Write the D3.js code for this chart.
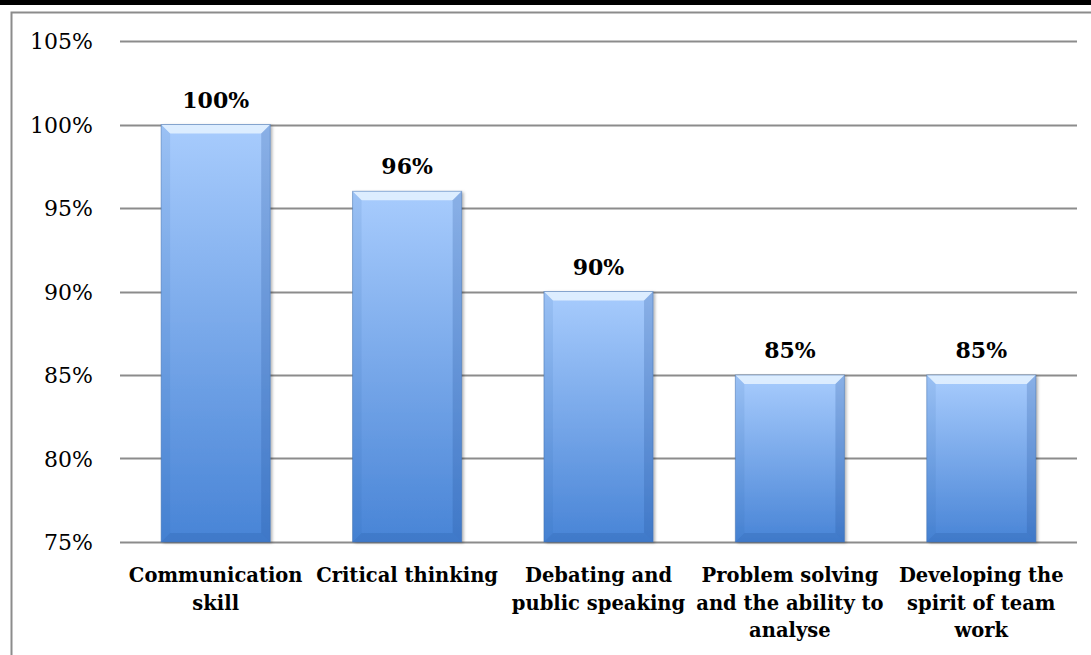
<!DOCTYPE html>
<html>
<head>
<meta charset="utf-8">
<script src="https://cdn.jsdelivr.net/npm/d3@7"></script>
<style>
  html, body { margin: 0; padding: 0; background: #fff; }
  svg { display: block; }
</style>
</head>
<body>
<div id="chart"></div>
<script>
// Skills chart — bevelled gradient bars, percentage axis from 75% to 105%
const CATEGORIES = [
  ['Communication', 'skill'],
  ['Critical thinking'],
  ['Debating and', 'public speaking'],
  ['Problem solving', 'and the ability to', 'analyse'],
  ['Developing the', 'spirit of team', 'work']
];
const VALUES = [1.00, 0.96, 0.90, 0.85, 0.85];
const Y_TICKS = [0.75, 0.80, 0.85, 0.90, 0.95, 1.00, 1.05];

const width = 1091, height = 655;
const plot = { left: 120, right: 1077, top: 41, bottom: 542 };
const SERIF = '"DejaVu Serif", "Liberation Serif", serif';

const svg = d3.select('#chart').append('svg')
  .attr('width', width).attr('height', height);

// top black strip + chart frame
svg.append('rect').attr('x', 0).attr('y', 0).attr('width', width).attr('height', 5).attr('fill', '#000');
svg.append('rect').attr('x', 11.5).attr('y', 12.5).attr('width', width + 20).attr('height', height + 20)
  .attr('fill', 'none').attr('stroke', '#8c8c8c').attr('stroke-width', 2);

const x = d3.scaleBand().domain(d3.range(CATEGORIES.length))
  .range([plot.left, plot.right]).paddingInner(0.43).paddingOuter(0.215);
const y = d3.scaleLinear().domain([0.75, 1.05]).range([plot.bottom, plot.top]);

const defs = svg.append('defs');
const grad = defs.append('linearGradient').attr('id', 'barGrad')
  .attr('x1', 0).attr('y1', 0).attr('x2', 0).attr('y2', 1);
grad.append('stop').attr('offset', '0%').attr('stop-color', '#a8ccfd');
grad.append('stop').attr('offset', '100%').attr('stop-color', '#4884d6');

const shadow = defs.append('filter').attr('id', 'shadow')
  .attr('x', '-10%').attr('y', '-10%').attr('width', '130%').attr('height', '120%');
shadow.append('feDropShadow').attr('dx', 2).attr('dy', 1).attr('stdDeviation', 1.5)
  .attr('flood-color', '#000').attr('flood-opacity', 0.3);

// gridlines
svg.append('g')
  .selectAll('line').data(Y_TICKS).join('line')
  .attr('x1', plot.left).attr('x2', plot.right)
  .attr('y1', d => Math.round(y(d)) + 0.5).attr('y2', d => Math.round(y(d)) + 0.5)
  .attr('stroke', '#8c8c8c').attr('stroke-width', 2);

// y axis labels
const yAxis = svg.append('g').attr('transform', `translate(${plot.left - 27},0)`)
  .call(d3.axisLeft(y).tickValues(Y_TICKS).tickFormat(d3.format('.0%')).tickSize(0).tickPadding(0));
yAxis.select('.domain').remove();
yAxis.selectAll('text').attr('font-family', SERIF).attr('font-size', '22px').attr('fill', '#000')
  .attr('dy', '0.35em');

// bars
const bev = 9;
const bars = svg.append('g').selectAll('g').data(VALUES).join('g')
  .attr('transform', (d, i) => `translate(${x(i)},${y(d)})`);

bars.append('rect')
  .attr('width', x.bandwidth()).attr('height', d => y(0.75) - y(d))
  .attr('fill', 'url(#barGrad)').attr('filter', 'url(#shadow)');

// bevel: top highlight
bars.append('path')
  .attr('d', `M0,0 L${x.bandwidth()},0 L${x.bandwidth() - bev},${bev} L${bev},${bev} Z`)
  .attr('fill', '#eaf5ff').attr('opacity', 0.8);
// bevel: left/right/bottom shades
bars.append('path')
  .attr('d', d => `M0,0 L${bev},${bev} L${bev},${y(0.75) - y(d) - bev} L0,${y(0.75) - y(d)} Z`)
  .attr('fill', '#2a5fa8').attr('opacity', 0.1);
bars.append('path')
  .attr('d', d => {
    const h = y(0.75) - y(d), w = x.bandwidth();
    return `M${w},0 L${w - bev},${bev} L${w - bev},${h - bev} L${w},${h} Z`;
  })
  .attr('fill', '#1f4f94').attr('opacity', 0.22);
bars.append('path')
  .attr('d', d => {
    const h = y(0.75) - y(d), w = x.bandwidth();
    return `M0,${h} L${bev},${h - bev} L${w - bev},${h - bev} L${w},${h} Z`;
  })
  .attr('fill', '#1f4f94').attr('opacity', 0.2);
bars.append('rect')
  .attr('width', x.bandwidth()).attr('height', d => y(0.75) - y(d))
  .attr('fill', 'none').attr('stroke', '#3f6fb0').attr('stroke-opacity', 0.5).attr('stroke-width', 1);

// value labels
svg.append('g').selectAll('text').data(VALUES).join('text')
  .attr('x', (d, i) => x(i) + x.bandwidth() / 2)
  .attr('y', d => y(d) - 17)
  .attr('text-anchor', 'middle')
  .attr('font-family', SERIF).attr('font-weight', 'bold').attr('font-size', '22px')
  .text(d3.format('.0%'));

// category labels
const cat = svg.append('g').selectAll('text').data(CATEGORIES).join('text')
  .attr('x', (d, i) => x(i) + x.bandwidth() / 2)
  .attr('y', 582)
  .attr('text-anchor', 'middle')
  .attr('font-family', SERIF).attr('font-weight', 'bold').attr('font-size', '19.5px');
cat.selectAll('tspan').data(d => d).join('tspan')
  .attr('x', function() { return this.parentNode.getAttribute('x'); })
  .attr('dy', (d, i) => i === 0 ? 0 : 27.5)
  .text(d => d);
</script>
</body>
</html>
